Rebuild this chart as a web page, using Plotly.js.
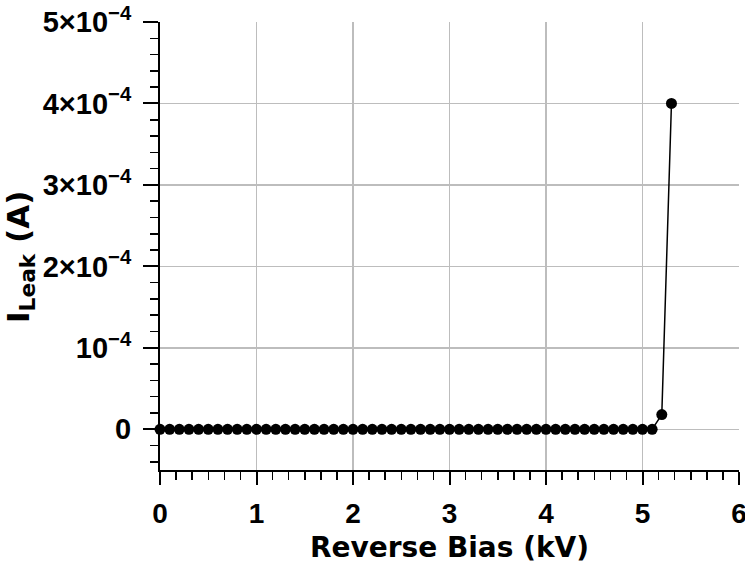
<!DOCTYPE html>
<html>
<head>
<meta charset="utf-8">
<script src="https://cdn.plot.ly/plotly-3.0.1.min.js"></script>
<style>html,body{margin:0;padding:0;background:#fff;}#chart{width:745px;height:568px;}</style>
</head>
<body>
<div id="chart"></div>
<script>
// Reverse bias (kV)
const biasKV = [0.0,0.1,0.2,0.3,0.4,0.5,0.6,0.7,0.8,0.9,
                1.0,1.1,1.2,1.3,1.4,1.5,1.6,1.7,1.8,1.9,
                2.0,2.1,2.2,2.3,2.4,2.5,2.6,2.7,2.8,2.9,
                3.0,3.1,3.2,3.3,3.4,3.5,3.6,3.7,3.8,3.9,
                4.0,4.1,4.2,4.3,4.4,4.5,4.6,4.7,4.8,4.9,
                5.0,5.1,5.2,5.3];
// Leakage current (A)
const leakA = [0,0,0,0,0,0,0,0,0,0,
               0,0,0,0,0,0,0,0,0,0,
               0,0,0,0,0,0,0,0,0,0,
               0,0,0,0,0,0,0,0,0,0,
               0,0,0,0,0,0,0,0,0,0,
               0,0,1.8e-5,4.0e-4];
const yTickVals = [0,1e-4,2e-4,3e-4,4e-4,5e-4];
const yTickText = ['0','10<sup>−4</sup>','2×10<sup>−4</sup>','3×10<sup>−4</sup>','4×10<sup>−4</sup>','5×10<sup>−4</sup>'];
const xTickVals = [0,1,2,3,4,5,6];
const xTickText = ['0','1','2','3','4','5','6'];

const TITLEFONT = 'DejaVu Sans, Liberation Sans, Arial, sans-serif';
const TICKFONT = 'Liberation Sans, Arial, sans-serif';

const trace = {
  x: biasKV, y: leakA, type: 'scatter', mode: 'lines+markers',
  line: {color: '#000', width: 1.5},
  marker: {color: '#000', size: 11, symbol: 'circle'},
  cliponaxis: false
};

const layout = {
  width: 745, height: 568,
  margin: {l: 160, r: 6, t: 22, b: 98},
  paper_bgcolor: '#fff', plot_bgcolor: '#fff',
  showlegend: false,
  font: {family: TICKFONT, color: '#000'},
  xaxis: {
    range: [0, 6], showline: true, linecolor: '#000', linewidth: 2,
    tickmode: 'array', tickvals: xTickVals, ticktext: xTickText,
    ticks: 'outside', ticklen: 13, tickwidth: 2, tickcolor: '#000',
    ticklabelstandoff: 4, ticklabeloverflow: 'allow',
    tickfont: {family: TICKFONT, size: 28, weight: 'bold', color: '#000'},
    showgrid: true, gridcolor: '#bdbdbd', gridwidth: 1.5,
    zeroline: false,
    minor: {dtick: 1/6, tick0: 0, ticks: 'outside', ticklen: 8, tickwidth: 1.5, tickcolor: '#000', showgrid: false},
    title: {text: 'Reverse Bias (kV)', font: {family: TITLEFONT, size: 28, weight: 'bold', color: '#000'}, standoff: 10}
  },
  yaxis: {
    range: [-0.5e-4, 5e-4], showline: true, linecolor: '#000', linewidth: 2,
    tickmode: 'array', tickvals: yTickVals, ticktext: yTickText,
    ticks: 'outside', ticklen: 15, tickwidth: 2, tickcolor: '#000',
    ticklabelstandoff: 6,
    tickfont: {family: TICKFONT, size: 29, weight: 'bold', color: '#000'},
    showgrid: true, gridcolor: '#bdbdbd', gridwidth: 1.5,
    zeroline: false,
    minor: {dtick: 0.2e-4, tick0: 0, ticks: 'outside', ticklen: 8, tickwidth: 1.5, tickcolor: '#000', showgrid: false},
    title: {text: 'I<sub>Leak</sub> (A)&nbsp;&nbsp;', font: {family: TITLEFONT, size: 31, weight: 'bold', color: '#000'}, standoff: 6}
  }
};

Plotly.newPlot('chart', [trace], layout, {displayModeBar: false, staticPlot: true});
</script>
</body>
</html>
